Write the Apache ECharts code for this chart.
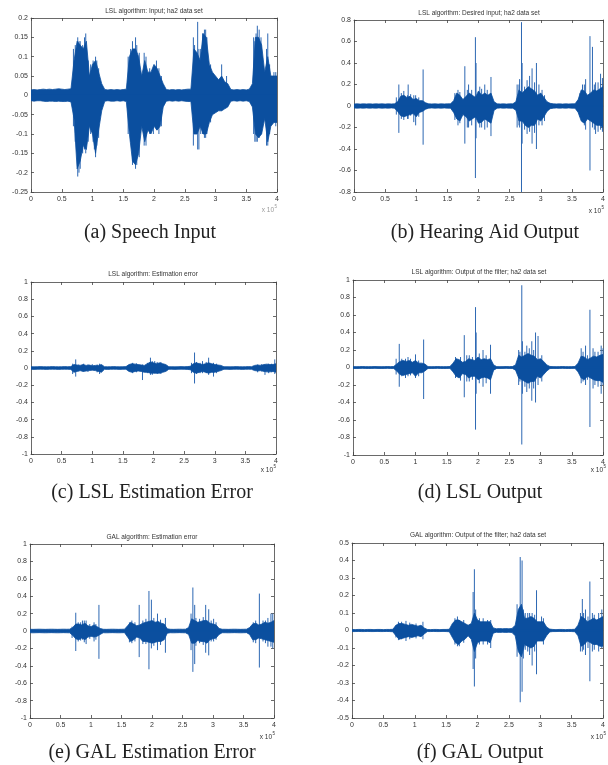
<!DOCTYPE html>
<html><head><meta charset="utf-8">
<script src="https://cdn.jsdelivr.net/npm/echarts@6/dist/echarts.min.js"></script>
<style>html,body{margin:0;padding:0;background:#fff}#c{width:608px;height:765px}</style>
</head><body><div id="c"></div><script>
// Envelope samples every 0.05 (x in units of 1e5 samples), i = 0..80
const ENV_STEP = 0.05;
const X_TICKS = [0, 0.5, 1, 1.5, 2, 2.5, 3, 3.5, 4];

// (a) Speech input
const A_HI = [.014,.015,.014,.015,.016,.015,.016,.015,.016,.017,.016,.015,.016,.017,
  .09,.14,.13,.12,.14,.05,.08,.09,.06,.03,
  .015,.014,.015,.014,.015,.014,.015,.016,
  .10,.12,.12,.10,.05,.09,.06,.06,.08,.07,.05,.03,
  .015,.014,.015,.014,.015,.014,.015,.016,
  .016,.12,.11,.09,.16,.15,.08,.06,.05,.04,.05,.035,.03,
  .015,.014,.015,.014,.015,.014,.016,
  .03,.15,.15,.13,.06,.10,.05,.05,.05];
const A_LO = [-.014,-.015,-.014,-.014,-.015,-.016,-.015,-.015,-.016,-.015,-.016,-.016,-.015,-.017,
  -.06,-.19,-.17,-.13,-.14,-.08,-.10,-.15,-.09,-.04,
  -.015,-.014,-.015,-.015,-.014,-.015,-.014,-.016,
  -.10,-.17,-.18,-.15,-.08,-.12,-.09,-.10,-.08,-.09,-.08,-.03,
  -.015,-.014,-.015,-.014,-.015,-.014,-.015,-.016,
  -.016,-.10,-.10,-.08,-.10,-.10,-.07,-.05,-.045,-.04,-.04,-.035,-.03,
  -.015,-.014,-.015,-.014,-.015,-.014,-.016,
  -.03,-.10,-.11,-.10,-.06,-.12,-.08,-.07,-.07];
const A_SPIKES = [[0.69,.12,-.08],[0.72,.13,-.12],[0.74,.10,-.12],[0.76,.15,-.21],[0.78,.14,-.20],[0.80,.14,-.19],[0.82,.12,-.10],[0.84,.13,-.15],[0.87,.15,-.14],[0.89,.16,-.15],[0.93,.09,-.12],[0.97,.08,-.10],[1.01,.09,-.12],[1.03,.08,-.14],[1.05,.10,-.16],[1.07,.09,-.13],[1.10,.07,-.11],
  [1.58,.10,-.10],[1.62,.12,-.12],[1.65,.14,-.18],[1.68,.12,-.17],[1.70,.15,-.19],[1.72,.13,-.18],[1.76,.11,-.16],[1.84,.11,-.13],[1.87,.10,-.13],[1.93,.07,-.10],[1.99,.04,-.10],[2.04,.09,-.09],[2.08,.07,-.10],[2.12,.05,-.08],
  [2.64,.15,-.13],[2.66,.13,-.10],[2.71,.19,-.14],[2.73,.12,-.14],[2.76,.12,-.10],[2.79,.16,-.10],[2.82,.17,-.11],[2.84,.17,-.11],[2.86,.15,-.10],[2.92,.08,-.07],[3.10,.08,-.04],[3.18,.05,-.03],
  [3.62,.15,-.10],[3.64,.14,-.12],[3.66,.16,-.12],[3.68,.18,-.12],[3.71,.17,-.11],[3.74,.15,-.10],[3.83,.12,-.13],[3.85,.16,-.13],[3.88,.08,-.10],[3.95,.06,-.05],[3.98,.06,-.08]];

// (b) Hearing aid output (desired input)
const B_HI = [.018,.02,.018,.02,.019,.02,.018,.02,.019,.02,.018,.02,.019,.02,
  .04,.09,.10,.08,.09,.06,.07,.05,.05,.03,
  .02,.019,.02,.018,.02,.019,.02,.02,
  .05,.12,.10,.06,.09,.12,.10,.08,.14,.10,.12,.10,.12,.04,
  .02,.019,.02,.018,.02,.02,
  .04,.15,.12,.15,.18,.16,.14,.10,.12,.08,.04,.025,
  .02,.019,.02,.018,.02,.019,.02,.02,
  .06,.15,.14,.10,.12,.15,.14,.16,.18];
const B_LO = [-.018,-.02,-.019,-.02,-.018,-.02,-.019,-.02,-.018,-.02,-.019,-.02,-.018,-.02,
  -.05,-.09,-.10,-.09,-.08,-.07,-.10,-.06,-.05,-.03,
  -.02,-.018,-.02,-.019,-.02,-.018,-.02,-.02,
  -.06,-.12,-.14,-.08,-.10,-.14,-.12,-.10,-.16,-.15,-.12,-.14,-.16,-.04,
  -.02,-.018,-.02,-.019,-.02,-.02,
  -.04,-.14,-.14,-.18,-.20,-.18,-.18,-.12,-.14,-.10,-.05,-.025,
  -.02,-.018,-.02,-.019,-.02,-.018,-.02,-.02,
  -.06,-.14,-.16,-.12,-.14,-.16,-.18,-.18,-.20];
const B_SPIKES = [[0.68,.08,-.08],[0.72,.20,-.25],[0.76,.12,-.12],[0.80,.14,-.13],[0.86,.10,-.12],[0.87,.20,-.12],[0.91,.11,-.09],[0.96,.10,-.15],[0.99,.10,-.18],[1.04,.08,-.10],[1.11,.34,-.36],
  [1.62,.12,-.13],[1.67,.15,-.18],[1.70,.13,-.16],[1.78,.37,-.35],[1.82,.15,-.20],[1.84,.20,-.20],[1.89,.15,-.18],[1.95,.64,-.67],[1.96,.40,-.30],[2.02,.18,-.20],[2.05,.16,-.20],[2.10,.20,-.22],[2.14,.15,-.20],[2.20,.27,-.28],
  [2.62,.20,-.20],[2.65,.20,-.18],[2.66,.25,-.20],[2.69,.78,-.80],[2.70,.40,-.35],[2.74,.18,-.22],[2.78,.24,-.26],[2.82,.28,-.24],[2.86,.35,-.35],[2.90,.22,-.25],[2.93,.40,-.40],[2.97,.20,-.18],[3.02,.15,-.18],[3.06,.10,-.14],
  [3.63,.12,-.10],[3.67,.20,-.15],[3.70,.20,-.18],[3.72,.25,-.22],[3.79,.65,-.60],[3.83,.55,-.20],[3.86,.20,-.22],[3.88,.22,-.26],[3.92,.22,-.24],[3.96,.30,-.22],[3.99,.26,-.24]];

// (c) LSL estimation error
const C_HI = [.015,.014,.015,.016,.015,.014,.015,.016,.015,.014,.015,.016,.015,.016,
  .04,.035,.03,.04,.03,.035,.025,.03,.03,.04,
  .015,.014,.015,.016,.015,.014,.015,.016,
  .04,.05,.045,.04,.035,.03,.05,.07,.06,.05,.06,.05,.04,.015,
  .015,.014,.015,.016,.015,.016,
  .02,.05,.06,.05,.04,.05,.06,.05,.04,.035,.03,.015,
  .015,.014,.015,.016,.015,.014,.015,.016,
  .015,.03,.035,.03,.04,.045,.04,.04,.05];
const C_LO = [-.015,-.016,-.015,-.014,-.015,-.016,-.015,-.014,-.015,-.016,-.015,-.014,-.015,-.016,
  -.05,-.04,-.03,-.04,-.035,-.03,-.025,-.03,-.04,-.05,
  -.015,-.016,-.015,-.014,-.015,-.016,-.015,-.014,
  -.04,-.05,-.04,-.035,-.04,-.05,-.05,-.06,-.06,-.06,-.06,-.05,-.04,-.015,
  -.015,-.016,-.015,-.014,-.015,-.016,
  -.02,-.05,-.06,-.05,-.04,-.05,-.06,-.05,-.05,-.04,-.03,-.015,
  -.015,-.016,-.015,-.014,-.015,-.016,-.015,-.014,
  -.015,-.03,-.035,-.03,-.04,-.045,-.045,-.04,-.05];
const C_SPIKES = [[0.68,.05,-.07],[0.73,.10,-.10],[0.78,.04,-.04],[0.86,.05,-.04],[0.93,.04,-.045],[1.00,.045,-.02],[1.08,.04,-.05],[1.12,.05,-.07],
  [1.66,.06,-.06],[1.72,.055,-.05],[1.82,.04,-.14],[1.90,.06,-.06],[1.95,.12,-.08],[1.98,.08,-.08],[2.02,.08,-.06],[2.06,.07,-.07],[2.12,.07,-.07],
  [2.62,.06,-.06],[2.67,.18,-.18],[2.70,.07,-.07],[2.76,.06,-.06],[2.80,.08,-.06],[2.86,.07,-.06],[2.90,.12,-.08],[2.98,.06,-.10],[3.03,.05,-.06],
  [3.70,.04,-.05],[3.76,.045,-.04],[3.82,.03,-.08],[3.88,.05,-.06],[3.93,.05,-.05],[3.98,.10,-.07]];

// (d) LSL output
const D_HI = [.010,.009,.010,.011,.010,.009,.010,.011,.010,.009,.010,.011,.010,.011,
  .04,.07,.08,.07,.08,.06,.08,.05,.05,.04,
  .010,.009,.010,.011,.010,.009,.010,.011,
  .05,.10,.09,.06,.07,.10,.09,.08,.12,.09,.10,.09,.10,.03,
  .010,.009,.010,.011,.010,.011,
  .03,.14,.12,.14,.16,.14,.13,.09,.10,.07,.03,.012,
  .010,.009,.010,.011,.010,.009,.010,.011,
  .05,.13,.12,.09,.11,.13,.12,.14,.15];
const D_LO = [-.010,-.011,-.010,-.009,-.010,-.011,-.010,-.009,-.010,-.011,-.010,-.009,-.010,-.011,
  -.04,-.08,-.09,-.08,-.07,-.06,-.10,-.06,-.06,-.04,
  -.010,-.011,-.010,-.009,-.010,-.011,-.010,-.009,
  -.05,-.10,-.12,-.07,-.08,-.12,-.10,-.10,-.14,-.12,-.11,-.12,-.14,-.03,
  -.010,-.011,-.010,-.009,-.010,-.011,
  -.03,-.12,-.14,-.16,-.18,-.16,-.16,-.10,-.12,-.08,-.04,-.012,
  -.010,-.011,-.010,-.009,-.010,-.011,-.010,-.009,
  -.05,-.12,-.14,-.10,-.12,-.14,-.15,-.15,-.17];
const D_SPIKES = [[0.69,.10,-.08],[0.74,.27,-.22],[0.78,.10,-.10],[0.84,.10,-.12],[0.88,.12,-.10],[0.92,.10,-.09],[1.00,.15,-.12],[1.05,.08,-.10],[1.13,.32,-.36],
  [1.64,.12,-.12],[1.72,.12,-.15],[1.78,.37,-.34],[1.82,.14,-.16],[1.86,.14,-.16],[1.91,.12,-.14],[1.96,.69,-.71],[1.97,.40,-.30],[2.02,.16,-.18],[2.08,.20,-.22],[2.13,.14,-.18],[2.20,.26,-.30],
  [2.65,.20,-.20],[2.67,.18,-.16],[2.70,.94,-.88],[2.71,.30,-.30],[2.75,.18,-.22],[2.78,.25,-.28],[2.82,.22,-.24],[2.86,.30,-.38],[2.89,.20,-.24],[2.92,.40,-.40],[2.96,.36,-.20],[3.02,.14,-.16],
  [3.65,.22,-.18],[3.68,.18,-.16],[3.72,.25,-.20],[3.75,.14,-.14],[3.79,.66,-.68],[3.84,.22,-.24],[3.87,.18,-.20],[3.92,.18,-.22],[3.97,.25,-.30],[4.00,.22,-.20]];

// (e) GAL estimation error
const E_HI = [.02,.019,.02,.021,.02,.019,.02,.021,.02,.019,.02,.021,.02,.021,
  .04,.08,.08,.07,.09,.06,.05,.07,.05,.03,
  .02,.019,.02,.021,.02,.019,.02,.021,
  .06,.10,.08,.06,.07,.09,.10,.11,.12,.10,.11,.09,.08,.025,
  .02,.019,.02,.021,.02,.021,
  .04,.14,.12,.10,.11,.12,.12,.09,.08,.07,.03,.02,
  .02,.019,.02,.021,.02,.019,.02,.021,
  .04,.08,.09,.07,.08,.10,.09,.10,.12];
const E_LO = [-.02,-.021,-.02,-.019,-.02,-.021,-.02,-.019,-.02,-.021,-.02,-.019,-.02,-.021,
  -.05,-.09,-.10,-.08,-.10,-.07,-.06,-.07,-.06,-.04,
  -.02,-.021,-.02,-.019,-.02,-.021,-.02,-.019,
  -.07,-.12,-.10,-.07,-.08,-.12,-.12,-.13,-.14,-.13,-.12,-.12,-.10,-.025,
  -.02,-.021,-.02,-.019,-.02,-.021,
  -.04,-.14,-.14,-.11,-.12,-.12,-.14,-.10,-.09,-.08,-.04,-.02,
  -.02,-.021,-.02,-.019,-.02,-.021,-.02,-.019,
  -.04,-.10,-.10,-.08,-.09,-.10,-.11,-.12,-.13];
const E_SPIKES = [[0.69,.05,-.08],[0.75,.21,-.23],[0.79,.10,-.12],[0.83,.10,-.11],[0.86,.12,-.10],[0.89,.12,-.13],[0.92,.12,-.15],[0.98,.08,-.09],[1.05,.10,-.12],[1.08,.08,-.10],[1.13,.30,-.32],
  [1.63,.10,-.13],[1.67,.12,-.14],[1.72,.10,-.12],[1.79,.30,-.30],[1.85,.12,-.15],[1.90,.14,-.15],[1.95,.46,-.44],[1.99,.36,-.20],[2.03,.15,-.17],[2.09,.20,-.22],[2.14,.13,-.16],[2.22,.15,-.25],
  [2.64,.20,-.22],[2.67,.50,-.47],[2.70,.30,-.38],[2.72,.15,-.17],[2.78,.14,-.14],[2.84,.16,-.16],[2.88,.30,-.25],[2.93,.25,-.28],[2.97,.12,-.12],[3.01,.14,-.12],[3.05,.10,-.10],
  [3.66,.10,-.13],[3.70,.12,-.14],[3.76,.43,-.42],[3.82,.12,-.12],[3.86,.12,-.14],[3.90,.15,-.18],[3.95,.20,-.18],[3.98,.20,-.20]];

// (f) GAL output
const F_HI = [.006,.005,.006,.006,.005,.006,.006,.005,.006,.006,.005,.006,.006,.007,
  .03,.04,.04,.035,.03,.035,.03,.025,.03,.015,
  .006,.005,.006,.006,.005,.006,.006,.007,
  .04,.06,.06,.05,.04,.03,.04,.10,.06,.05,.05,.05,.05,.015,
  .01,.011,.01,.011,.01,.012,
  .03,.12,.15,.07,.07,.08,.07,.05,.05,.05,.02,.008,
  .006,.005,.006,.006,.005,.006,.006,.007,
  .03,.08,.07,.05,.06,.07,.06,.07,.08];
const F_LO = [-.006,-.006,-.005,-.006,-.006,-.005,-.006,-.006,-.005,-.006,-.006,-.005,-.006,-.007,
  -.03,-.05,-.045,-.04,-.035,-.04,-.035,-.03,-.035,-.02,
  -.006,-.006,-.005,-.006,-.006,-.005,-.006,-.007,
  -.04,-.07,-.08,-.06,-.05,-.03,-.05,-.12,-.07,-.06,-.06,-.06,-.07,-.015,
  -.01,-.011,-.01,-.011,-.01,-.012,
  -.03,-.12,-.15,-.08,-.09,-.10,-.09,-.06,-.06,-.06,-.03,-.008,
  -.006,-.006,-.005,-.006,-.006,-.005,-.006,-.007,
  -.03,-.09,-.08,-.06,-.07,-.08,-.08,-.09,-.09];
const F_SPIKES = [[0.70,.03,-.04],[0.74,.05,-.055],[0.79,.05,-.05],[0.86,.055,-.06],[0.92,.045,-.05],[1.02,.04,-.045],[1.13,.05,-.05],
  [1.64,.07,-.08],[1.68,.08,-.09],[1.71,.06,-.09],[1.78,.06,-.07],[1.93,.22,-.22],[1.95,.35,-.32],[1.97,.12,-.16],[2.03,.07,-.08],[2.09,.07,-.08],[2.16,.06,-.08],[2.21,.06,-.10],
  [2.63,.15,-.15],[2.68,.42,-.41],[2.71,.40,-.35],[2.73,.12,-.16],[2.76,.10,-.11],[2.80,.10,-.12],[2.83,.10,-.14],[2.87,.10,-.20],[2.91,.09,-.12],[2.94,.23,-.25],[3.02,.08,-.06],[3.05,.07,-.08],
  [3.64,.10,-.12],[3.67,.18,-.12],[3.69,.10,-.11],[3.72,.12,-.14],[3.76,.08,-.10],[3.79,.28,-.29],[3.83,.10,-.12],[3.86,.09,-.11],[3.93,.10,-.12],[3.98,.12,-.10]];

const TITLES = ['LSL algorithm: Input; ha2 data set','LSL algorithm: Desired input; ha2 data set','LSL algorithm: Estimation error','LSL algorithm: Output of the filter; ha2 data set','GAL algorithm: Estimation error','GAL algorithm: Output of the filter; ha2 data set'];
const CAPTIONS = ['(a) Speech Input','(b) Hearing Aid Output','(c) LSL Estimation Error','(d) LSL Output','(e) GAL Estimation Error','(f) GAL Output'];
const Y_MIN = [-0.25,-0.8,-1,-1,-1,-0.5];
const Y_MAX = [0.2,0.8,1,1,1,0.5];
const Y_INT = [0.05,0.2,0.2,0.2,0.2,0.1];

const DATA = [[A_HI,A_LO,A_SPIKES],[B_HI,B_LO,B_SPIKES],[C_HI,C_LO,C_SPIKES],[D_HI,D_LO,D_SPIKES],[E_HI,E_LO,E_SPIKES],[F_HI,F_LO,F_SPIKES]];

// layout
const LAYOUT = [
  {grid:{left:31,top:18,width:246,height:174}, title:[154,11], cap:[150,233], exp:[277,210]},
  {grid:{left:354,top:20,width:250,height:172}, title:[479,13], cap:[485,233], exp:[604,211]},
  {grid:{left:31,top:282,width:245,height:172}, title:[153,274], cap:[152,493], exp:[276,470]},
  {grid:{left:353,top:280,width:252,height:175}, title:[479,272], cap:[480,493], exp:[606,470]},
  {grid:{left:30,top:544,width:244,height:174}, title:[152,537], cap:[152,753], exp:[275,737]},
  {grid:{left:352,top:543,width:253,height:175}, title:[478,535], cap:[480,753], exp:[606,737]}
];

const CORE = '#0b4f9f';
const SPIKE = '#2d68b3';
const AX = '#444';
const LBL = {fontSize:7, color:'#333', fontFamily:'Liberation Sans, Arial, sans-serif'};

const grids=[], xAxes=[], yAxes=[], series=[], graphics=[];
LAYOUT.forEach((L,k)=>{
  grids.push(Object.assign({show:false}, L.grid));
  const xCommon = {type:'value', gridIndex:k, min:0, max:4, interval:0.5,
    axisLine:{show:true, onZero:false, lineStyle:{color:AX, width:0.8}},
    axisTick:{show:true, inside:true, length:3, lineStyle:{color:AX, width:0.8}},
    splitLine:{show:false}};
  xAxes.push(Object.assign({}, xCommon, {position:'bottom', axisLabel:Object.assign({margin:4}, LBL)}));
  xAxes.push(Object.assign({}, xCommon, {position:'top', axisLabel:{show:false}}));
  const yCommon = {type:'value', gridIndex:k, min:Y_MIN[k], max:Y_MAX[k], interval:Y_INT[k],
    axisLine:{show:true, onZero:false, lineStyle:{color:AX, width:0.8}},
    axisTick:{show:true, inside:true, length:3, lineStyle:{color:AX, width:0.8}},
    splitLine:{show:false}};
  yAxes.push(Object.assign({}, yCommon, {position:'left', axisLabel:Object.assign({margin:3}, LBL)}));
  yAxes.push(Object.assign({}, yCommon, {position:'right', axisLabel:{show:false}}));

  const [hi, lo, spikes] = DATA[k];
  const mk = arr => arr.map((v,i)=>[+(i*ENV_STEP).toFixed(3), v]);
  [hi, lo].forEach(arr=>{
    series.push({type:'line', xAxisIndex:2*k, yAxisIndex:2*k, data:mk(arr), showSymbol:false, silent:true,
      animation:false, lineStyle:{color:CORE, width:0.8}, areaStyle:{color:CORE, opacity:1, origin:0}});
  });
  // baseline stroke to hide the seam between the two filled halves
  series.push({type:'line', xAxisIndex:2*k, yAxisIndex:2*k, data:[[X_TICKS[0],0],[X_TICKS[X_TICKS.length-1],0]],
    showSymbol:false, silent:true, animation:false, lineStyle:{color:CORE, width:1.5}});
  series.push({type:'custom', xAxisIndex:2*k, yAxisIndex:2*k, data:spikes, animation:false, silent:true,
    encode:{x:0, y:[1,2]},
    renderItem:(params, api)=>{
      const x = api.value(0);
      const p1 = api.coord([x, api.value(2)]);
      const p2 = api.coord([x, api.value(1)]);
      return {type:'line', shape:{x1:p1[0], y1:p1[1], x2:p2[0], y2:p2[1]}, style:{stroke:SPIKE, lineWidth:1}};
    }});

  graphics.push({type:'text', x:L.title[0], y:L.title[1], style:{text:TITLES[k], fontSize:6.5, fill:'#333',
    fontFamily:'Liberation Sans, Arial, sans-serif', textAlign:'center', textVerticalAlign:'middle'}});
  graphics.push({type:'text', x:L.cap[0], y:L.cap[1], style:{text:CAPTIONS[k], fontSize:20, fill:'#222',
    fontFamily:'Liberation Serif, Times New Roman, serif', textAlign:'center', textVerticalAlign:'middle'}});
  graphics.push({type:'text', x:L.exp[0]-3, y:L.exp[1], style:{text:'x 10', fontSize:6.5, fill: k===0?'#999':'#333',
    fontFamily:'Liberation Sans, Arial, sans-serif', textAlign:'right', textVerticalAlign:'middle'}});
  graphics.push({type:'text', x:L.exp[0]-2.5, y:L.exp[1]-3, style:{text:'5', fontSize:4.5, fill: k===0?'#999':'#333',
    fontFamily:'Liberation Sans, Arial, sans-serif', textAlign:'left', textVerticalAlign:'middle'}});
});

const chart = echarts.init(document.getElementById('c'), null, {renderer:'canvas'});
chart.setOption({animation:false, backgroundColor:'#fff', grid:grids, xAxis:xAxes, yAxis:yAxes, series:series, graphic:graphics});
</script></body></html>
